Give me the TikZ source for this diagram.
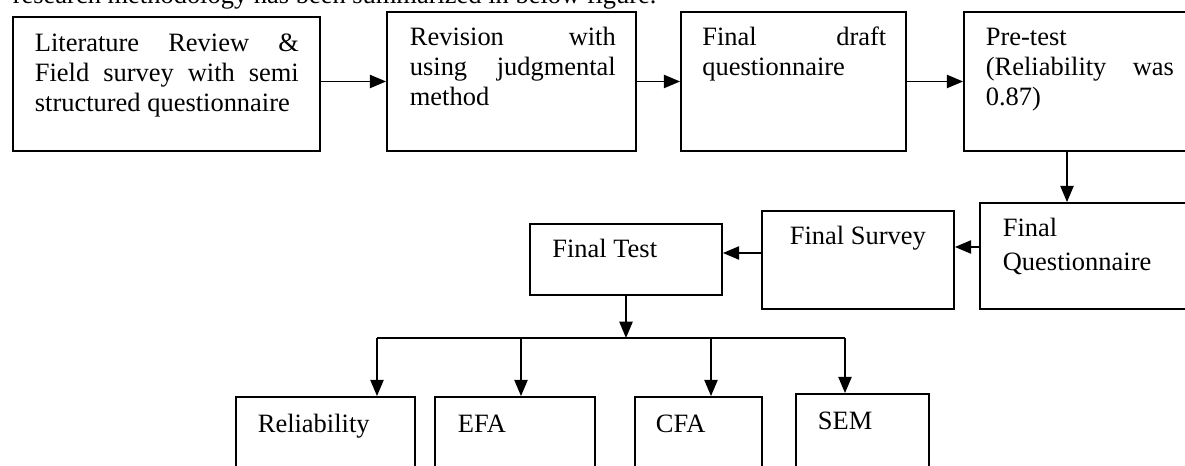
\documentclass[tikz,border=0pt]{standalone}
\usepackage{fontspec}
\setmainfont{Liberation Serif}
\usetikzlibrary{arrows.meta,calc,fit}

\tikzset{every picture/.style={line width=0.8pt}}
\tikzset{
  box/.style={draw, rectangle, inner sep=0pt},
  txt/.style={anchor=base west, inner sep=0pt, font=\fontsize{12}{13.6}\selectfont, align=justify},
  arr/.style={-{Triangle[length=7.4pt,width=6pt]}},
}

\begin{document}
\begin{tikzpicture}[x=0.4535pt,y=0.4535pt,yscale=-1,xscale=1]
\useasboundingbox (0,0) rectangle (1185,466);
\clip (0,0) rectangle (1185,466);

% Text Node
\node [txt, align=left] (intro) at (12,4) {research methodology has been summarized in below figure.};

%Shape: Rectangle
\node [box, fit={(13,17) (320,151)}] (lit) {};
%Shape: Rectangle
\node [box, fit={(387,12) (636,151)}] (rev) {};
%Shape: Rectangle
\node [box, fit={(681,12) (906,151)}] (fin) {};
%Shape: Rectangle
\node [box, fit={(964,12) (1192,151)}] (pre) {};

% Text Node
\node [txt, text width=119.7pt] (littxt) at (34,52) {Literature Review \&\linebreak Field survey with semi\linebreak structured questionnaire};
% Text Node
\node [txt, text width=93.4pt] (revtxt) at (409,46) {Revision with\linebreak using judgmental\linebreak method};
% Text Node
\node [txt, text width=83.4pt] (fintxt) at (701.5,46) {Final draft\linebreak questionnaire};
% Text Node
\node [txt, text width=85.3pt] (pretxt) at (985,46) {Pre-test\\(Reliability was\linebreak 0.87)};

%Shape: Rectangle
\node [box, fit={(980,203) (1192,309)}] (fq) {};
%Shape: Rectangle
\node [box, fit={(762,211) (954,309)}] (fs) {};
%Shape: Rectangle
\node [box, fit={(530,224) (722,295)}] (ft) {};

% Text Node
\node [txt, text width=100pt, align=left, font=\fontsize{12}{15}\selectfont] (fqtxt) at (1002,237) {Final\\Questionnaire};
% Text Node
\node [txt] (fstxt) at (789,245) {Final Survey};
% Text Node
\node [txt] (fttxt) at (551.5,258) {Final Test};

%Shape: Rectangle
\node [box, fit={(236,397) (415,480)}] (rel) {};
%Shape: Rectangle
\node [box, fit={(435,397) (595,480)}] (efa) {};
%Shape: Rectangle
\node [box, fit={(635,397) (762,480)}] (cfa) {};
%Shape: Rectangle
\node [box, fit={(796,394) (929,480)}] (sem) {};

% Text Node
\node [txt] (reltxt) at (257,433) {Reliability};
% Text Node
\node [txt] (efatxt) at (457,433) {EFA};
% Text Node
\node [txt] (cfatxt) at (655,433) {CFA};
% Text Node
\node [txt] (semtxt) at (817,430) {SEM};

% top row
\draw [arr] (lit.east |- rev.west) -- (rev.west);
\draw [arr] (rev.east) -- (fin.west);
\draw [arr] (fin.east) -- (pre.west);
\draw [arr] ($(pre.south)+(-11,0)$) coordinate (pd) -- (pd |- fq.north);

% back row
\draw [arr] ($(fq.west)+(0,-9)$) coordinate (qa) -- (qa -| fs.east);
\draw [arr] ($(fs.west)+(0,-7)$) coordinate (sa) -- (sa -| ft.east);

% split
\coordinate (split) at (626,338);
\coordinate (b1) at (377,338);
\coordinate (b2) at (521,338);
\coordinate (b3) at (711,338);
\coordinate (b4) at (845,338);
\draw [arr] (ft.south) -- (ft.south |- split);
\draw (b1) -- (b4);
\draw [arr] (b1) -- (b1 |- rel.north);
\draw [arr] (b2) -- (b2 |- efa.north);
\draw [arr] (b3) -- (b3 |- cfa.north);
\draw [arr] (b4) -- (b4 |- sem.north);
\end{tikzpicture}
\end{document}
